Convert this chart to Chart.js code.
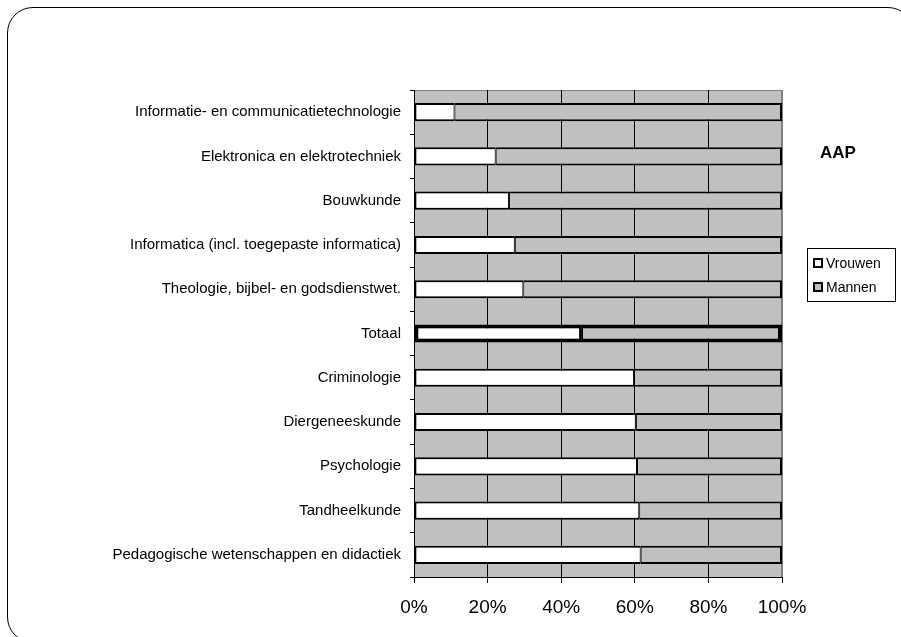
<!DOCTYPE html>
<html>
<head>
<meta charset="utf-8">
<script src="https://cdn.jsdelivr.net/npm/chart.js@4"></script>
<style>
    body { margin: 0; background: #fff; overflow: hidden; }
    #wrap { position: relative; width: 901px; height: 637px; }
    #frame {
        position: absolute; left: 7px; top: 7px; width: 907px; height: 636px;
        border: 1px solid #000; border-radius: 26px; box-sizing: border-box;
    }
    #chart { position: absolute; left: 0; top: 0; }
</style>
</head>
<body>
<div id="wrap">
    <div id="frame"></div>
    <canvas id="chart" width="901" height="637"></canvas>
</div>
<script>
const categories = [
    'Informatie- en communicatietechnologie',
    'Elektronica en elektrotechniek',
    'Bouwkunde',
    'Informatica (incl. toegepaste informatica)',
    'Theologie, bijbel- en godsdienstwet.',
    'Totaal',
    'Criminologie',
    'Diergeneeskunde',
    'Psychologie',
    'Tandheelkunde',
    'Pedagogische wetenschappen en didactiek'
];
const vrouwen = [11, 22.2, 25.8, 27.4, 29.7, 45.4, 59.8, 60.3, 60.6, 61.2, 61.6];
const mannen = [89, 77.8, 74.2, 72.6, 70.3, 54.6, 40.2, 39.7, 39.4, 38.8, 38.4];
const xTicks = [0, 20, 40, 60, 80, 100];
const chartTitle = 'AAP';

Chart.defaults.font.family = '"Liberation Sans", Arial, sans-serif';
Chart.defaults.color = '#000';

// Totaal gets a heavier outline
function outline(ctx, inner) {
    const thick = categories[ctx.dataIndex] === 'Totaal';
    const w = thick ? 4 : 2;
    return inner === 'right'
        ? { top: w, bottom: w, left: w, right: thick ? 2 : 1 }
        : { top: w, bottom: w, left: thick ? 2 : 1, right: w };
}

const plotBackground = {
    id: 'plotBackground',
    beforeDraw(chart) {
        const { ctx, chartArea: a } = chart;
        ctx.save();
        ctx.fillStyle = '#c0c0c0';
        ctx.fillRect(a.left, a.top, a.right - a.left, a.bottom - a.top);
        ctx.strokeStyle = '#808080';
        ctx.lineWidth = 1;
        ctx.beginPath();
        ctx.moveTo(a.left, a.top + 0.5);
        ctx.lineTo(a.right - 0.5, a.top + 0.5);
        ctx.lineTo(a.right - 0.5, a.bottom);
        ctx.stroke();
        ctx.restore();
    }
};

const sideLegend = {
    id: 'sideLegend',
    afterDraw(chart) {
        const ctx = chart.ctx;
        ctx.save();
        ctx.font = 'bold 17px "Liberation Sans", Arial, sans-serif';
        ctx.fillStyle = '#000';
        ctx.textAlign = 'center';
        ctx.textBaseline = 'middle';
        ctx.fillText(chartTitle, 838, 153);

        ctx.fillStyle = '#fff';
        ctx.strokeStyle = '#000';
        ctx.lineWidth = 1;
        ctx.fillRect(807, 248, 88, 53);
        ctx.strokeRect(807.5, 248.5, 88, 53);

        ctx.font = '14px "Liberation Sans", Arial, sans-serif';
        ctx.textAlign = 'left';
        chart.data.datasets.forEach(function (ds, i) {
            const y = 263 + i * 24;
            ctx.fillStyle = ds.backgroundColor;
            ctx.fillRect(813, y - 5, 10, 10);
            ctx.lineWidth = 2;
            ctx.strokeStyle = '#000';
            ctx.strokeRect(814, y - 4, 8, 8);
            ctx.fillStyle = '#000';
            ctx.fillText(ds.label, 826, y + 1);
        });
        ctx.restore();
    }
};

new Chart(document.getElementById('chart'), {
    type: 'bar',
    data: {
        labels: categories,
        datasets: [
            {
                label: 'Vrouwen',
                data: vrouwen,
                backgroundColor: '#ffffff',
                borderColor: '#000',
                borderWidth: function (ctx) { return outline(ctx, 'right'); },
                borderSkipped: false,
                barPercentage: 0.41,
                categoryPercentage: 1
            },
            {
                label: 'Mannen',
                data: mannen,
                backgroundColor: '#c0c0c0',
                borderColor: '#000',
                borderWidth: function (ctx) { return outline(ctx, 'left'); },
                borderSkipped: false,
                barPercentage: 0.41,
                categoryPercentage: 1
            }
        ]
    },
    options: {
        indexAxis: 'y',
        responsive: false,
        animation: false,
        layout: { padding: { top: 90, right: 119, left: 0, bottom: 0 } },
        plugins: {
            legend: { display: false },
            tooltip: { enabled: false }
        },
        scales: {
            x: {
                stacked: true,
                min: 0,
                max: 100,
                afterFit: function (scale) { scale.height = 60; },
                afterBuildTicks: function (scale) {
                    scale.ticks = xTicks.map(function (v) { return { value: v }; });
                },
                ticks: {
                    font: { size: 19 },
                    padding: 13,
                    callback: function (v) { return v + '%'; }
                },
                grid: {
                    color: function (ctx) { return ctx.tick && ctx.tick.value === 100 ? '#808080' : '#000'; },
                    tickColor: '#000',
                    tickLength: 6
                },
                border: { display: true, color: '#000', width: 1 }
            },
            y: {
                stacked: true,
                afterFit: function (scale) { scale.width = 414; },
                ticks: { font: { size: 15 }, padding: 9 },
                grid: {
                    offset: true,
                    drawOnChartArea: false,
                    color: '#000',
                    tickLength: 4
                },
                border: { display: true, color: '#000', width: 1 }
            }
        }
    },
    plugins: [plotBackground, sideLegend]
});
</script>
</body>
</html>
